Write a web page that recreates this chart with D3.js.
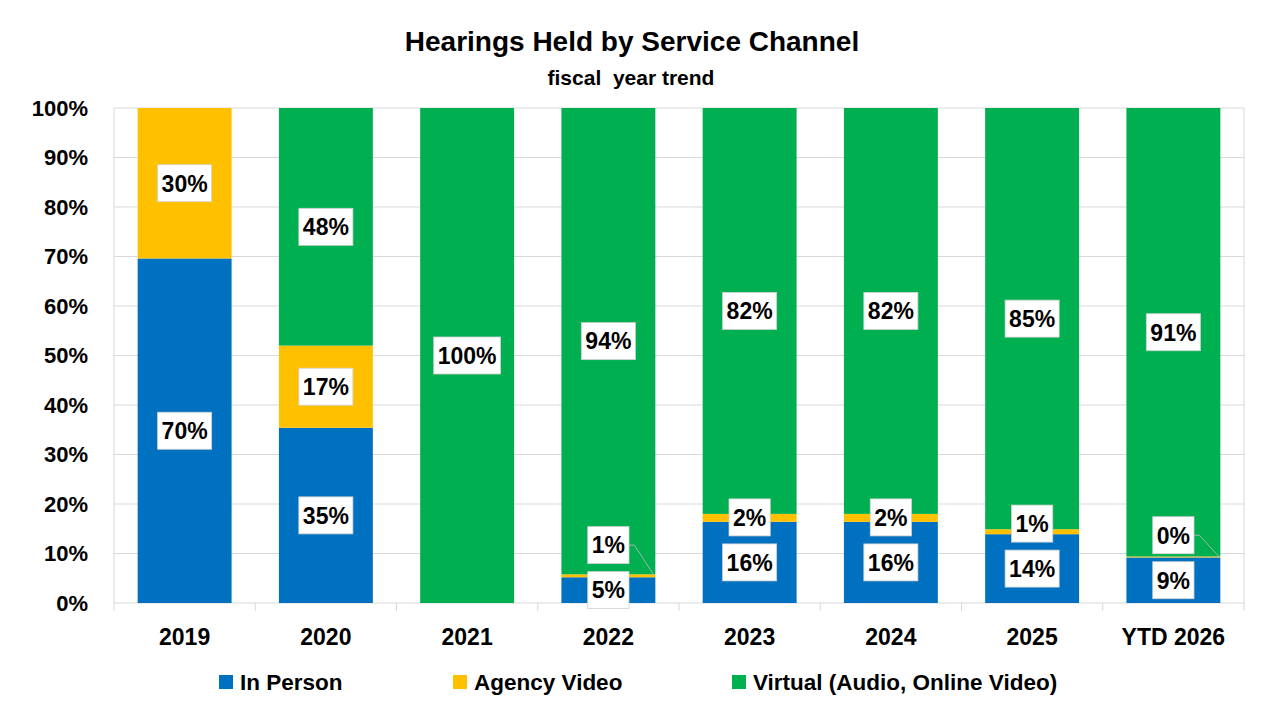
<!DOCTYPE html>
<html>
<head>
<meta charset="utf-8">
<script src="https://cdn.jsdelivr.net/npm/d3@7"></script>
<style>
  body { margin: 0; background: #fff; }
  text { font-family: "Liberation Sans", Arial, sans-serif; font-weight: bold; fill: #000; }
</style>
</head>
<body>
<div id="chart"></div>
<script>
// Chart data (percent of hearings held per fiscal year)
const years = ['2019', '2020', '2021', '2022', '2023', '2024', '2025', 'YTD 2026'];
const inPerson = [69.6, 35.4, 0, 5.2, 16.4, 16.4, 13.9, 9.2];
const agencyVideo = [30.4, 16.6, 0, 0.6, 1.6, 1.6, 1.0, 0.2];
const virtual = [0, 48.0, 100, 94.2, 82.0, 82.0, 85.1, 90.6];
const seriesNames = ['In Person', 'Agency Video', 'Virtual (Audio, Online Video)'];
const seriesColors = ['#0070C0', '#FFC000', '#00B050'];
const yTicks = [0, 10, 20, 30, 40, 50, 60, 70, 80, 90, 100];

const width = 1280, height = 720;
const margin = { top: 108, right: 36, bottom: 117, left: 114 };

const svg = d3.select('#chart')
    .append('svg')
    .attr('width', width)
    .attr('height', height);

// Title
svg.append('text')
    .attr('x', 632).attr('y', 51)
    .attr('text-anchor', 'middle')
    .style('font-size', '28px')
    .text('Hearings Held by Service Channel');
svg.append('text')
    .attr('x', 631).attr('y', 85)
    .attr('text-anchor', 'middle')
    .style('font-size', '21px')
    .attr('xml:space', 'preserve')
    .text('fiscal  year trend');

const x = d3.scaleBand()
    .domain(years)
    .range([margin.left, width - margin.right])
    .paddingInner(0.335)
    .paddingOuter(0.1675);

const y = d3.scaleLinear()
    .domain([0, 100])
    .range([height - margin.bottom, margin.top]);

// Gridlines
svg.append('g')
    .selectAll('line')
    .data(yTicks)
    .enter()
    .append('line')
    .attr('x1', margin.left).attr('x2', width - margin.right)
    .attr('y1', d => y(d)).attr('y2', d => y(d))
    .attr('stroke', '#D9D9D9');

// Plot area side borders
[margin.left, width - margin.right].forEach(px => {
    svg.append('line')
        .attr('x1', px).attr('x2', px)
        .attr('y1', margin.top).attr('y2', height - margin.bottom)
        .attr('stroke', '#D9D9D9');
});

// Y axis labels
const yAxis = svg.append('g')
    .attr('transform', `translate(${margin.left}, 0)`)
    .call(d3.axisLeft(y).tickValues(yTicks).tickFormat(d => d + '%').tickSize(0).tickPadding(26));
yAxis.select('.domain').remove();
yAxis.selectAll('text')
    .style('font-size', '22px')
    .style('font-family', '"Liberation Sans", Arial, sans-serif');

// X axis with category boundary ticks
const step = x.step();
const boundaries = d3.range(years.length + 1).map(i => margin.left + i * step);
svg.append('g')
    .selectAll('line')
    .data(boundaries)
    .enter()
    .append('line')
    .attr('x1', d => d).attr('x2', d => d)
    .attr('y1', y(0)).attr('y2', y(0) + 8)
    .attr('stroke', '#D9D9D9');

svg.append('g')
    .selectAll('text')
    .data(years)
    .enter()
    .append('text')
    .attr('x', d => x(d) + x.bandwidth() / 2)
    .attr('y', 645)
    .attr('text-anchor', 'middle')
    .style('font-size', '23px')
    .text(d => d);

// Stack the series
const table = years.map((yr, i) => ({ year: yr, s0: inPerson[i], s1: agencyVideo[i], s2: virtual[i] }));
const stack = d3.stack().keys(['s0', 's1', 's2']);
const stacked = stack(table);

const layers = svg.append('g')
    .selectAll('g')
    .data(stacked)
    .enter()
    .append('g')
    .attr('fill', (d, i) => seriesColors[i]);

layers.selectAll('rect')
    .data(d => d)
    .enter()
    .append('rect')
    .attr('x', d => x(d.data.year))
    .attr('width', x.bandwidth())
    .attr('y', d => y(d[1]))
    .attr('height', d => y(d[0]) - y(d[1]));

// Data labels
const labelG = svg.append('g');
const fontSize = 23;

function addLabel(cx, cy, value) {
    const g = labelG.append('g');
    const t = g.append('text')
        .attr('x', cx).attr('y', cy)
        .attr('text-anchor', 'middle')
        .attr('dy', '0.36em')
        .style('font-size', fontSize + 'px')
        .text(Math.round(value) + '%');
    const w = t.node().getComputedTextLength() + 8;
    const h = 37;
    g.insert('rect', 'text')
        .attr('x', cx - w / 2).attr('y', cy - h / 2)
        .attr('width', w).attr('height', h)
        .attr('fill', '#fff')
        .attr('stroke', '#D0D0D0')
        .attr('stroke-width', 0.8);
    return w;
}

years.forEach((yr, i) => {
    const cx = x(yr) + x.bandwidth() / 2;
    const barRight = x(yr) + x.bandwidth();
    const s0 = stacked[0][i], s1 = stacked[1][i], s2 = stacked[2][i];
    let ipY = null;
    if (inPerson[i] > 0) {
        ipY = (y(s0[0]) + y(s0[1])) / 2;
        addLabel(cx, ipY, inPerson[i]);
    }
    if (agencyVideo[i] > 0) {
        const segY = (y(s1[0]) + y(s1[1])) / 2;
        let ly = segY;
        if (ipY !== null) ly = Math.min(segY, ipY - 45);
        if (segY - ly > 15) {
            // leader line from the moved label to its segment
            labelG.append('path')
                .attr('d', `M${cx + 20},${ly} H${cx + 26} L${barRight - 1},${segY}`)
                .attr('fill', 'none')
                .attr('stroke', '#A5B5A5')
                .attr('stroke-width', 1);
        }
        addLabel(cx, ly, agencyVideo[i]);
    }
    if (virtual[i] > 0) {
        const segY = (y(s2[0]) + y(s2[1])) / 2;
        addLabel(cx, segY, virtual[i]);
    }
});

// Legend
const legendX = [219, 453, 732];
const legend = svg.append('g')
    .selectAll('g')
    .data(seriesNames)
    .enter()
    .append('g')
    .attr('transform', (d, i) => `translate(${legendX[i]}, 675)`);
legend.append('rect')
    .attr('width', 14).attr('height', 14)
    .attr('fill', (d, i) => seriesColors[i]);
legend.append('text')
    .attr('x', 21).attr('y', 7)
    .attr('dy', '0.36em')
    .style('font-size', '22.5px')
    .text(d => d);
</script>
</body>
</html>
